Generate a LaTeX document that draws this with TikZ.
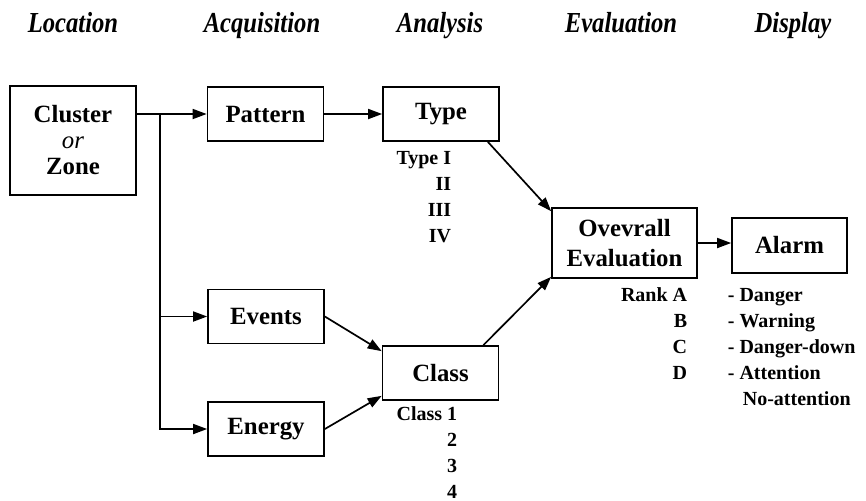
\documentclass[tikz,border=0pt]{standalone}
\usepackage{fontspec}
\setmainfont{Liberation Serif}
\usetikzlibrary{arrows.meta}
\begin{document}
\begin{tikzpicture}[x=0.5pt, y=-0.5pt, line width=0.85pt,
  box/.style = {draw, inner sep=0pt, minimum width=58pt, minimum height=27pt, font=\fontsize{12.4}{13}\selectfont\bfseries},
  head/.style = {anchor=base, inner sep=0pt, xscale=0.85, font=\fontsize{14.5}{16}\selectfont\bfseries\itshape},
  item/.style = {inner sep=0pt, font=\fontsize{10}{12}\selectfont\bfseries},
  link/.style = {-{Triangle[length=7pt, width=5pt]}}]
\useasboundingbox (0,0) rectangle (866,500);

\node[head] (loc) at (73,32) {Location};
\node[head] (acq) at (262,32) {Acquisition};
\node[head] (ana) at (440,32) {Analysis};
\node[head] (eva) at (621,32) {Evaluation};
\node[head] (dis) at (793,32) {Display};

\node[box, minimum width=63pt, minimum height=54.5pt, align=center] (cluster) at (73,140.5) {Cluster\\{\mdseries\itshape or}\\Zone};
\node[box] (pattern) at (265.5,114) {Pattern};
\node[box] (type) at (441,114) {Type};
\node[box] (events) at (266,316.5) {Events};
\node[box] (energy) at (266,429) {Energy};
\node[box] (class) at (440.5,373) {Class};
\node[box, minimum width=72.5pt, minimum height=35pt, align=center, font=\fontsize{12.4}{15}\selectfont\bfseries] (overall) at (624.5,243) {Ovevrall\\Evaluation};
\node[box, minimum width=57.5pt, minimum height=27.5pt] (alarm) at (789.5,245.5) {Alarm};

\coordinate (split) at (160,114);
\draw (cluster.east |- pattern.west) -- (split);
\draw[link] (split) -- (pattern.west);
\draw[link] (split) |- (events.west);
\draw[link] (split) |- (energy.west);
\draw[link] (pattern) -- (type);
\draw[link] ([xshift=-6pt]type.south east) -- ([yshift=-2pt]overall.north west);
\draw[link] (events.east) -- ([yshift=-3pt]class.north west);
\draw[link] (energy.east) -- ([yshift=2.5pt]class.south west);
\draw[link] ([xshift=-8pt]class.north east) -- ([yshift=1pt]overall.south west);
\draw[link] (overall.east) -- (overall.east -| alarm.west);

\foreach \lbl [count=\i] in {Type I, II, III, IV}
  \node[item, anchor=base east] (type\i) at (452,{138+26*\i}) {\lbl};
\foreach \lbl [count=\i] in {Class 1, 2, 3, 4}
  \node[item, anchor=base east] (class\i) at (458,{394+26*\i}) {\lbl};
\foreach \lbl [count=\i] in {Rank A, B, C, D}
  \node[item, anchor=base east] (rank\i) at (688,{275+26.2*\i}) {\lbl};
\foreach \lbl [count=\i] in {- Danger, - Warning, - Danger-down, - Attention}
  \node[item, anchor=base west] (alert\i) at (727,{275+26.2*\i}) {\lbl};
\node[item, anchor=base west] (alert5) at (742,405) {No-attention};

\end{tikzpicture}
\end{document}
